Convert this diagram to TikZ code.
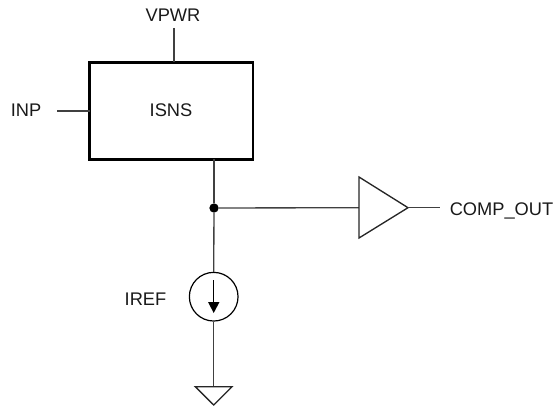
\documentclass[tikz,border=0pt]{standalone}
\usepackage{fontspec}
\setmainfont{Liberation Sans}
\tikzset{
  lbl/.style={inner sep=0pt,font=\fontsize{13.7pt}{15pt}\selectfont,text=black!90,anchor=base},
  wire/.style={line width=1pt,draw=black!75},
  blockbox/.style={draw=black,line width=2.1pt,minimum width=163.5pt*0.75,minimum height=97pt*0.75,inner sep=0pt,outer sep=0pt,anchor=north west},
  srccircle/.style={circle,draw=black,line width=0.9pt,minimum size=36.5pt,inner sep=0pt},
  outline/.style={line width=1pt,draw=black!85,fill=white,line join=miter}
}
\begin{document}
\begin{tikzpicture}[x=0.75pt,y=-0.75pt]
\useasboundingbox (0,0) rectangle (555,406);
\node[blockbox] (box) at (89.5,62.5) {};
\node[lbl] (isns) at (171,117) {ISNS};
\coordinate (vtop) at (174,28);
\coordinate (vbot) at (174,62.5);
\coordinate (inl) at (57,111);
\coordinate (inr) at (89.5,111);
\draw[wire] (vtop) -- (vbot);
\draw[wire] (inl) -- (inr);
\node[lbl] (vpwr) at (173,21.5) {VPWR};
\node[lbl] (inp) at (26,116.5) {INP};
\coordinate (boxout) at (214,159);
\node[circle,fill=black,inner sep=0pt,minimum size=7pt] (junc) at (214,208) {};
\node[srccircle] (src) at (213.7,296.7) {};
\coordinate (tl) at (359,177);
\coordinate (bl) at (359,238);
\coordinate (tip) at (408,207.7);
\coordinate (tin) at (359,207.7);
\coordinate (gndtop) at (213.7,386.7);
\coordinate (gl) at (195.3,386.7);
\coordinate (gr) at (232,386.7);
\coordinate (gb) at (213.7,405);
\coordinate (outend) at (440,207.7);
\draw[wire] (boxout) -- (junc);
\draw[wire] (junc) -- (src.north);
\draw[wire] (src.south) -- (gndtop);
\draw[wire] (junc) -- (tin);
\draw[outline] (tl) -- (tip) -- (bl) -- cycle;
\draw[wire] (tip) -- (outend);
\draw[outline] (gl) -- (gr) -- (gb) -- cycle;
\coordinate (arrtop) at (213.7,280);
\coordinate (arrneck) at (213.7,302);
\coordinate (arrl) at (208,302);
\coordinate (arrr) at (219.5,302);
\coordinate (arrtip) at (213.7,313);
\draw[wire,draw=black] (arrtop) -- (arrneck);
\fill[black] (arrl) -- (arrr) -- (arrtip) -- cycle;
\node[lbl] (iref) at (145.5,305) {IREF};
\node[lbl,anchor=base west] (comp) at (449.5,215.5) {COMP\_OUT};
\end{tikzpicture}
\end{document}
